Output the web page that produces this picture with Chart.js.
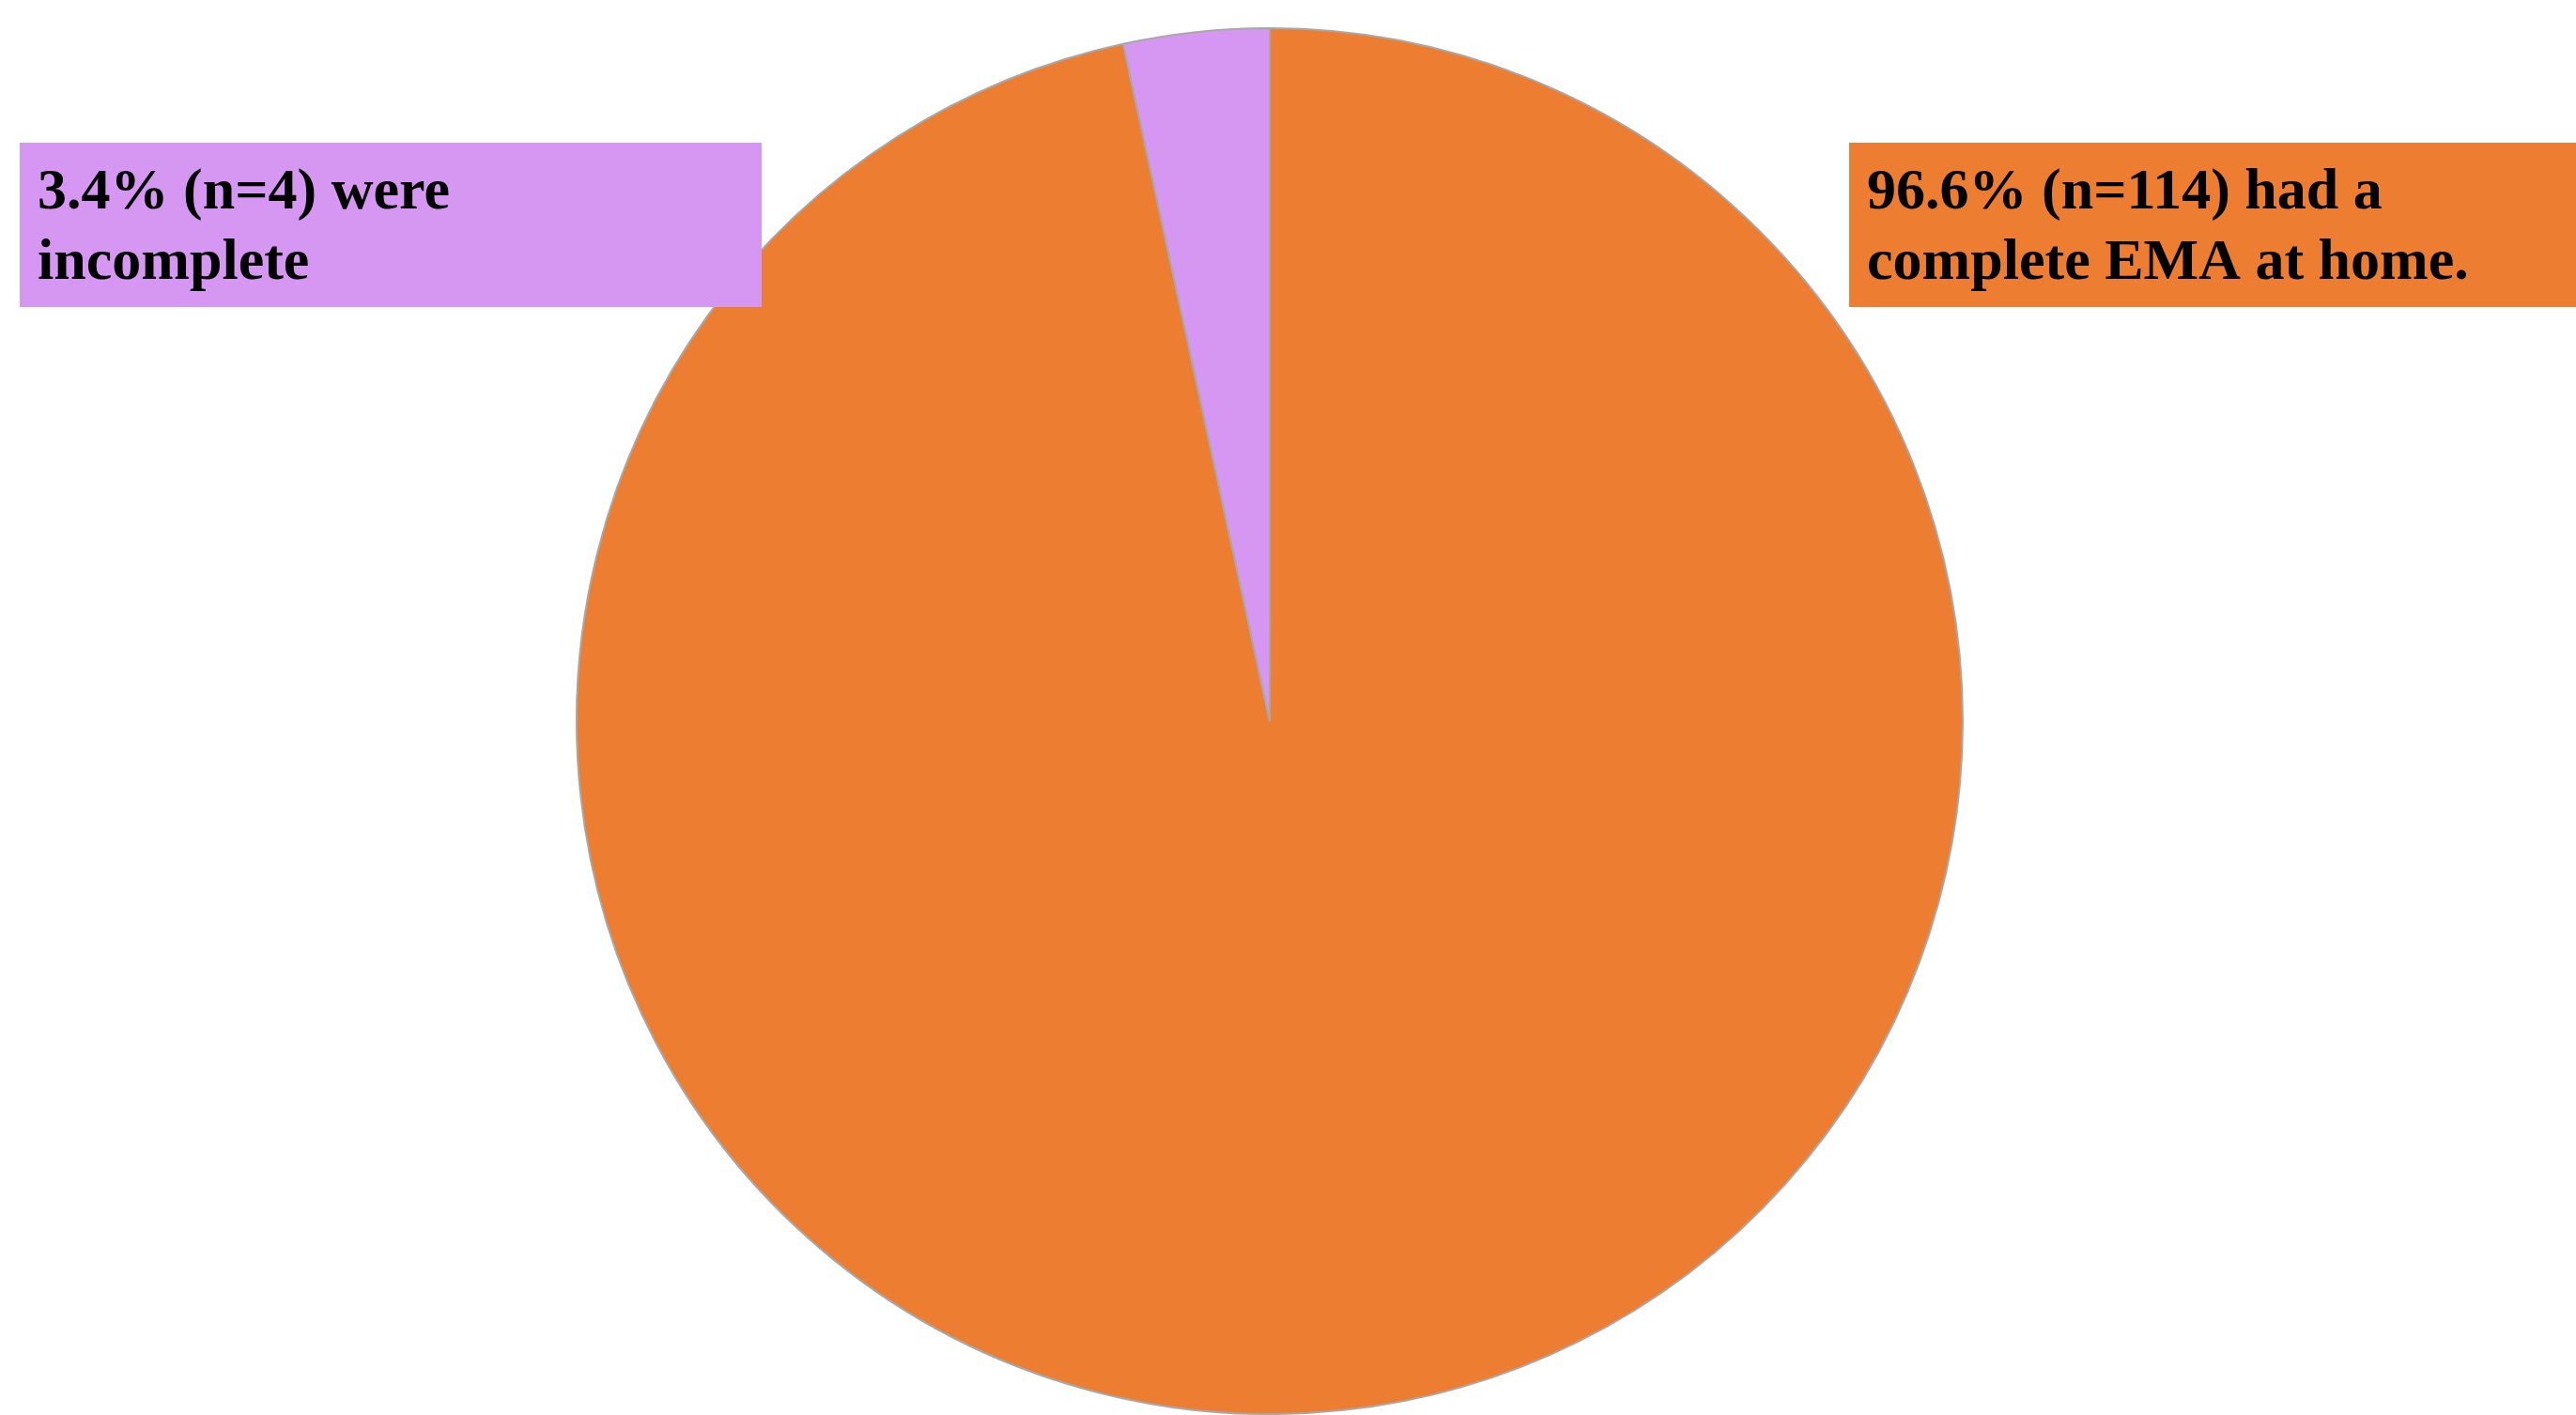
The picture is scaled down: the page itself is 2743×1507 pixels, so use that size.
<!DOCTYPE html>
<html>
<head>
<meta charset="utf-8">
<script src="https://cdn.jsdelivr.net/npm/chart.js@4"></script>
<style>
  html, body { margin: 0; padding: 0; background: #ffffff; }
  #wrap { width: 2743px; height: 1507px; position: relative; }
  canvas { display: block; }
</style>
</head>
<body>
<div id="wrap"><canvas id="c" width="2743" height="1507"></canvas></div>
<script>
// ---- data ----
const categories = ["Complete EMA at home", "Incomplete"];
const counts = [114, 4];
const percents = ["96.6%", "3.4%"];
const sliceColors = ["#ED7D31", "#D597F1"];
const labelLines = [
  ["96.6% (n=114) had a", "complete EMA at home."],
  ["3.4% (n=4) were", "incomplete"]
];

const calloutPlugin = {
  id: 'callouts',
  afterDraw(chart) {
    const ctx = chart.ctx;
    ctx.save();
    const font = 'bold 62px "Liberation Serif", "Times New Roman", serif';
    ctx.font = font;
    const ref = ctx.measureText(labelLines[1][0]).width;
    const sx = 439 / ref;
    const boxes = [
      { x: 1969, y: 152, w: 2743 - 1969, h: 175, tx: 1988, color: sliceColors[0], lines: labelLines[0] },
      { x: 21, y: 152, w: 790, h: 175, tx: 40, color: sliceColors[1], lines: labelLines[1] }
    ];
    boxes.forEach(b => {
      ctx.fillStyle = b.color;
      ctx.fillRect(b.x, b.y, b.w, b.h);
      ctx.fillStyle = '#000000';
      ctx.font = font;
      ctx.textBaseline = 'alphabetic';
      ctx.textAlign = 'left';
      b.lines.forEach((line, i) => {
        ctx.save();
        ctx.translate(b.tx, 222 + i * 75);
        ctx.scale(sx, 1);
        ctx.fillText(line, 0, 0);
        ctx.restore();
      });
    });
    ctx.restore();
  }
};

new Chart(document.getElementById('c'), {
  type: 'pie',
  data: {
    labels: categories,
    datasets: [{
      data: counts,
      backgroundColor: sliceColors,
      borderColor: '#a8a8a8',
      borderWidth: 2
    }]
  },
  options: {
    responsive: false,
    animation: false,
    devicePixelRatio: 1,
    layout: { padding: { top: 29, bottom: 0, left: 0, right: 39 } },
    plugins: {
      legend: { display: false },
      tooltip: { enabled: false }
    }
  },
  plugins: [calloutPlugin]
});
</script>
</body>
</html>
